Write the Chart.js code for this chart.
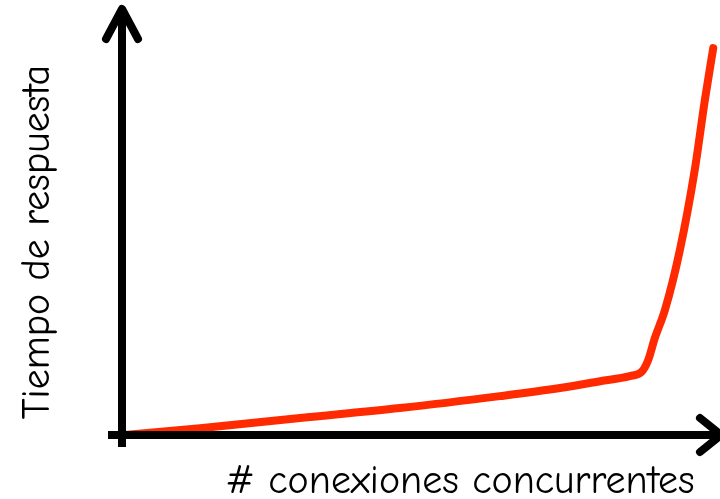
<!DOCTYPE html>
<html>
<head>
<meta charset="utf-8">
<script src="https://cdn.jsdelivr.net/npm/chart.js@4.4.0/dist/chart.umd.min.js"></script>
<style>
  html, body { margin: 0; padding: 0; background: #fff; }
  #wrap { width: 720px; height: 499px; }
</style>
</head>
<body>
<div id="wrap"><canvas id="c" width="720" height="499"></canvas></div>
<script>
// curve (x: connections 0-100, y: response time 0-100)
const conexiones = [0.5, 13.1, 29.9, 46.6, 63.4, 73.5, 80.2, 85.2, 87.2, 88.3, 89.4, 91.1, 93.6, 96.1, 97.8, 99.2];
const tiempo     = [0,   1.6,  4.0,  6.3,  9.1,  11.0, 12.6, 13.8, 14.8, 17.6, 22.7, 29.3, 43.3, 62.1, 78.5, 90.6];

const xLabel = '# conexiones concurrentes';
const yLabel = 'Tiempo de respuesta';
const font = '"Comic Sans MS", "Comic Neue", "DejaVu Sans", sans-serif';

// hand-drawn style axes with open arrow heads, plus the two axis labels
const arrowAxes = {
    id: 'arrowAxes',
    afterDatasetsDraw(chart) {
        const { ctx, chartArea: { left, right, top, bottom } } = chart;
        ctx.save();
        ctx.strokeStyle = '#000';
        ctx.lineWidth = 8;
        ctx.lineJoin = 'round';

        ctx.beginPath();
        ctx.lineCap = 'butt';
        ctx.moveTo(left, bottom + 12);
        ctx.lineTo(left, top + 4);
        ctx.moveTo(left - 14, bottom);
        ctx.lineTo(right, bottom);
        ctx.stroke();

        ctx.lineCap = 'round';
        ctx.beginPath();
        ctx.moveTo(left - 16, top + 31);
        ctx.lineTo(left, top + 1);
        ctx.lineTo(left + 16, top + 31);
        ctx.moveTo(right - 18, bottom - 17);
        ctx.lineTo(right + 3, bottom);
        ctx.lineTo(right - 18, bottom + 17);
        ctx.stroke();

        ctx.fillStyle = '#000';
        ctx.font = '40px ' + font;
        ctx.textAlign = 'center';
        ctx.textBaseline = 'middle';
        ctx.fillText(xLabel, 460, 482);
        ctx.translate(38, 242);
        ctx.rotate(-Math.PI / 2);
        ctx.fillText(yLabel, 0, 0);
        ctx.restore();
    }
};

new Chart(document.getElementById('c'), {
    type: 'line',
    data: {
        labels: conexiones,
        datasets: [{
            data: conexiones.map((x, i) => ({ x: x, y: tiempo[i] })),
            borderColor: '#ff2a00',
            borderWidth: 8,
            pointRadius: 0,
            tension: 0.4,
            cubicInterpolationMode: 'monotone',
            borderCapStyle: 'round',
            clip: false
        }]
    },
    options: {
        responsive: false,
        animation: false,
        layout: { padding: { top: 8, right: 2, left: 0, bottom: 0 } },
        plugins: {
            legend: { display: false },
            tooltip: { enabled: false }
        },
        scales: {
            x: {
                type: 'linear',
                min: 0,
                max: 100,
                grid: { display: false },
                border: { display: false },
                ticks: { display: false },
                afterFit(scale) { scale.height = 64; }
            },
            y: {
                min: 0,
                max: 100,
                grid: { display: false },
                border: { display: false },
                ticks: { display: false },
                afterFit(scale) { scale.width = 122; }
            }
        }
    },
    plugins: [arrowAxes]
});
</script>
</body>
</html>
